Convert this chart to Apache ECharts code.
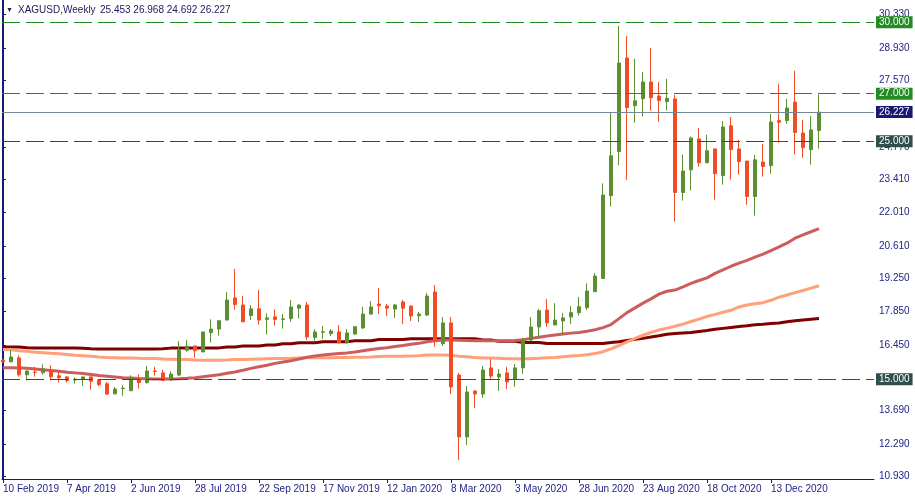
<!DOCTYPE html>
<html><head><meta charset="utf-8">
<script src="https://cdn.jsdelivr.net/npm/echarts@6/dist/echarts.min.js"></script>
<style>html,body{margin:0;padding:0;background:#fff}#c{width:915px;height:500px}</style>
</head><body><div id="c"></div>
<script>
const symbolName = 'XAGUSD,Weekly';
const opens = [15.81,15.74,15.90,15.19,15.30,15.28,15.36,15.15,15.10,14.97,
15.01,15.10,14.97,14.81,14.39,14.61,14.52,15.01,14.86,15.35,
15.27,14.97,15.18,16.22,16.40,16.15,16.96,17.11,17.49,18.42,
18.12,17.68,17.96,17.52,17.62,17.52,17.55,17.99,18.12,16.76,
16.98,16.92,16.99,16.54,16.90,17.16,17.74,18.16,18.08,17.95,
18.25,18.08,17.67,17.70,18.67,16.50,17.37,15.18,12.58,14.51,
14.38,15.48,15.10,15.27,14.99,15.48,16.65,17.20,17.91,17.28,
17.45,17.62,17.80,18.01,18.68,19.24,22.72,24.57,28.50,26.50,
26.79,27.49,26.90,26.67,26.78,22.85,23.80,25.10,24.10,24.68,
23.56,25.65,24.68,24.17,22.68,24.13,23.98,25.87,25.87,26.65,
25.35,24.65,25.453];
const highs = [15.85,16.23,16.01,15.37,15.53,15.63,15.59,15.31,15.12,15.08,
15.11,15.11,14.98,14.89,14.68,14.75,15.17,15.20,15.56,15.52,
15.39,15.34,16.61,16.65,16.41,17.00,17.52,17.47,18.67,19.64,
18.50,18.12,18.75,17.77,17.94,17.74,18.33,18.15,18.25,17.11,
17.24,17.11,17.28,17.11,17.24,18.04,18.29,18.84,18.16,18.16,
18.33,18.09,17.83,18.63,18.96,17.62,17.62,15.27,14.72,14.52,
15.56,15.85,15.43,15.52,15.64,16.74,17.62,17.95,18.37,18.20,
17.79,18.08,18.46,19.03,19.47,23.23,26.20,29.85,29.42,28.46,
27.91,28.92,27.49,27.62,26.95,24.43,25.20,25.56,25.27,24.69,
25.85,26.02,25.06,24.18,24.43,24.89,26.15,27.42,26.78,27.96,
25.90,26.06,26.968];
const lows = [15.70,15.70,15.11,14.95,15.11,15.20,14.95,14.86,14.86,14.82,
14.73,14.57,14.70,14.34,14.36,14.31,14.52,14.61,14.82,15.15,
14.92,14.96,15.14,16.16,15.91,16.14,16.54,16.83,17.48,17.93,
17.39,17.49,17.30,16.88,17.26,17.13,17.42,17.55,16.65,16.62,
16.69,16.81,16.50,16.50,16.88,17.11,17.73,17.74,17.66,17.58,
17.32,17.45,17.41,17.66,16.36,16.40,14.38,11.61,12.24,13.80,
14.22,14.97,14.51,14.59,14.68,15.23,16.61,16.78,17.20,17.28,
16.91,17.33,17.68,17.91,18.67,19.22,22.26,24.00,23.38,25.78,
26.04,26.29,25.83,26.29,21.63,22.51,22.93,23.94,24.10,22.55,
23.18,23.39,23.60,22.33,21.88,23.52,23.64,24.95,25.74,24.44,
24.31,24.02,24.692];
const closes = [15.74,15.94,15.19,15.35,15.29,15.43,15.11,15.07,14.95,15.01,
15.10,14.92,14.78,14.38,14.59,14.63,15.02,14.86,15.35,15.33,
14.96,15.22,16.23,16.39,16.20,16.99,17.11,17.46,18.33,18.14,
17.42,17.96,17.49,17.58,17.51,17.54,18.04,18.12,16.78,16.99,
17.00,17.03,16.54,16.95,17.21,17.74,18.04,18.09,17.99,18.12,
17.99,17.66,17.74,18.50,16.65,17.37,14.68,12.58,14.47,14.38,
15.39,15.14,15.22,14.89,15.48,16.65,17.20,17.88,17.37,17.49,
17.58,17.80,18.05,18.71,19.34,22.74,24.39,28.29,26.42,26.70,
27.49,26.83,26.71,26.81,22.85,23.75,25.14,24.10,24.60,23.64,
25.60,24.65,24.15,22.68,24.22,23.94,25.81,25.80,26.40,25.37,
24.73,25.48,26.227];
const ma50 = [15.49,15.49,15.48,15.46,15.43,15.40,15.37,15.34,15.30,15.27,
15.24,15.20,15.16,15.13,15.10,15.07,15.05,15.03,15.02,15.01,
15.01,15.01,15.02,15.04,15.07,15.11,15.15,15.19,15.25,15.31,
15.38,15.46,15.53,15.59,15.67,15.73,15.78,15.85,15.93,15.98,
16.02,16.05,16.08,16.11,16.15,16.20,16.25,16.29,16.33,16.38,
16.42,16.47,16.51,16.58,16.62,16.65,16.65,16.64,16.63,16.62,
16.62,16.62,16.62,16.62,16.63,16.66,16.72,16.77,16.82,16.86,
16.90,16.94,16.97,17.02,17.08,17.17,17.30,17.55,17.80,18.00,
18.20,18.38,18.58,18.70,18.75,18.88,19.03,19.15,19.26,19.45,
19.60,19.75,19.88,20.00,20.13,20.26,20.41,20.56,20.72,20.93,
21.07,21.20,21.33];
const ma100 = [16.25,16.24,16.20,16.18,16.14,16.12,16.09,16.07,16.04,16.01,
15.99,15.97,15.94,15.92,15.91,15.90,15.90,15.88,15.87,15.87,
15.85,15.84,15.83,15.83,15.81,15.80,15.80,15.80,15.81,15.83,
15.83,15.84,15.85,15.86,15.87,15.87,15.88,15.90,15.91,15.91,
15.91,15.91,15.92,15.92,15.93,15.93,15.94,15.96,15.97,15.97,
15.97,15.98,15.99,16.02,16.02,16.02,16.01,15.97,15.95,15.92,
15.90,15.90,15.88,15.86,15.86,15.86,15.86,15.88,15.91,15.92,
15.95,15.98,16.00,16.03,16.08,16.16,16.28,16.42,16.57,16.72,
16.85,16.97,17.07,17.15,17.23,17.32,17.43,17.53,17.64,17.73,
17.82,17.90,18.04,18.12,18.17,18.22,18.32,18.45,18.54,18.64,
18.73,18.83,18.93];
const ma200 = [16.36,16.36,16.36,16.33,16.32,16.32,16.32,16.32,16.31,16.31,
16.30,16.28,16.27,16.27,16.27,16.27,16.27,16.27,16.27,16.27,
16.28,16.31,16.31,16.31,16.32,16.32,16.32,16.32,16.36,16.36,
16.40,16.40,16.40,16.44,16.44,16.49,16.49,16.54,16.54,16.54,
16.58,16.58,16.58,16.58,16.62,16.62,16.62,16.67,16.67,16.67,
16.67,16.70,16.70,16.70,16.70,16.70,16.70,16.70,16.70,16.70,
16.65,16.65,16.60,16.60,16.60,16.55,16.55,16.55,16.50,16.50,
16.50,16.50,16.50,16.50,16.50,16.50,16.55,16.58,16.63,16.68,
16.72,16.78,16.83,16.89,16.92,16.95,16.97,17.01,17.05,17.10,
17.14,17.18,17.22,17.25,17.29,17.31,17.34,17.37,17.42,17.46,
17.49,17.52,17.55];
const xTickIndex = [0,8,16,24,32,40,48,56,64,72,80,88,96];
const xTickLabels = ['10 Feb 2019','7 Apr 2019','2 Jun 2019','28 Jul 2019','22 Sep 2019','17 Nov 2019','12 Jan 2020','8 Mar 2020','3 May 2020','28 Jun 2020','23 Aug 2020','18 Oct 2020','13 Dec 2020'];
const yTickValues = [10.93,12.29,13.69,16.45,17.85,19.25,20.61,22.01,23.41,24.77,27.57,28.93,30.33];
const greenLevels = [30, 27];
const slateLevels = [25, 15];

const UP = '#5b8f31', DOWN = '#f04c25';
const AXIS = '#1a1a78', TXT = '#22228a';
const FONT = '"Liberation Sans", Arial, sans-serif';
const last = opens.length - 1;
const lastPrice = closes[last];
const candleData = opens.map((o, i) => [i, o, closes[i], lows[i], highs[i]]);
const toPts = arr => arr.map((v, i) => [i, v]);

function lvl(v, lineColor, boxColor, solid) {
  return {
    yAxis: v,
    lineStyle: {color: lineColor, width: 1, type: solid ? 'solid' : [18, 6]},
    label: {show: true, position: 'end', distance: 2, formatter: v.toFixed(3),
      color: '#ffffff', backgroundColor: boxColor, padding: [1, 3, 1, 3],
      fontSize: 10, fontFamily: FONT}
  };
}
const markData = [
  ...greenLevels.map(v => lvl(v, '#228b22', '#228b22', false)),
  ...slateLevels.map(v => lvl(v, '#2f4f4f', '#2f4f4f', false)),
  lvl(lastPrice, '#778899', '#191970', true)
];

const chart = echarts.init(document.getElementById('c'), null, {renderer: 'canvas'});
chart.setOption({
  animation: false,
  backgroundColor: '#ffffff',
  grid: {left: 2, right: 41, top: 0, bottom: 21, outerBoundsMode: 'none'},
  xAxis: {
    type: 'value', min: -0.125, max: 108.875,
    splitLine: {show: false},
    axisLine: {show: true, lineStyle: {color: AXIS, width: 1}},
    axisTick: {show: true, customValues: xTickIndex, length: 4, lineStyle: {color: AXIS}},
    axisLabel: {show: true, customValues: xTickIndex, align: 'left', margin: 5,
      color: TXT, fontSize: 10, fontFamily: FONT,
      formatter: v => xTickLabels[xTickIndex.indexOf(Math.round(v))] || ''}
  },
  yAxis: [{
    type: 'value', position: 'right', min: 10.811, max: 30.937, scale: true,
    splitLine: {show: false},
    axisLine: {show: true, lineStyle: {color: AXIS, width: 1}},
    axisTick: {show: true, inside: false, customValues: yTickValues, length: 3, lineStyle: {color: AXIS}},
    axisLabel: {show: true, customValues: yTickValues, margin: 5, color: TXT, fontSize: 10, fontFamily: FONT,
      formatter: v => v.toFixed(3)}
  }, {
    type: 'value', position: 'left', min: 10.811, max: 30.937,
    splitLine: {show: false},
    axisLine: {show: true, lineStyle: {color: AXIS, width: 1}},
    axisTick: {show: false}, axisLabel: {show: false}
  }],
  graphic: [
    {type: 'text', left: 6, top: 7, style: {text: '▼', font: '7px ' + FONT, fill: '#1a1a5a'}},
    {type: 'text', left: 18, top: 5, style: {text: symbolName, font: '10px ' + FONT, fill: '#1a1a5a'}},
    {type: 'text', left: 100, top: 5, style: {text: [opens[last], highs[last], lows[last], closes[last]].map(v => v.toFixed(3)).join(' '), font: '10px ' + FONT, fill: '#1a1a5a'}}
  ],
  series: [
    {type: 'line', name: 'MA200', data: toPts(ma200), showSymbol: false, z: 1,
      lineStyle: {color: '#800000', width: 3}, silent: true},
    {type: 'line', name: 'MA100', data: toPts(ma100), showSymbol: false, z: 1,
      lineStyle: {color: '#ffa07a', width: 3}, silent: true},
    {type: 'line', name: 'MA50', data: toPts(ma50), showSymbol: false, z: 1,
      lineStyle: {color: '#cd5c5c', width: 3}, silent: true},
    {type: 'candlestick', name: symbolName, data: candleData,
      encode: {x: 0, y: [1, 2, 3, 4]}, barWidth: 4, z: 3,
      itemStyle: {color: UP, color0: DOWN, borderColor: UP, borderColor0: DOWN, borderWidth: 1},
      markLine: {silent: true, symbol: ['none', 'none'], animation: false, data: markData}
    }
  ]
});
</script></body></html>
